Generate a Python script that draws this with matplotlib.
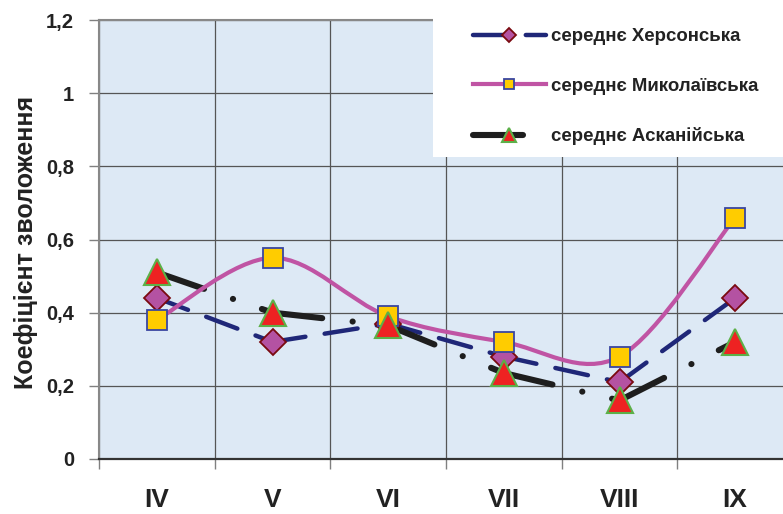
import numpy as np
import matplotlib
matplotlib.use("Agg")
import matplotlib.pyplot as plt
from matplotlib.path import Path
from matplotlib.patches import PathPatch, Rectangle
from matplotlib.lines import Line2D

plt.rcParams['font.family'] = ['Liberation Sans', 'DejaVu Sans']
plt.rcParams['font.weight'] = 'bold'
plt.rcParams['lines.scale_dashes'] = False

# --- data ---
months = ["IV", "V", "VI", "VII", "VIII", "IX"]
kherson = [0.44, 0.32, 0.37, 0.28, 0.21, 0.44]
mykolaiv = [0.38, 0.55, 0.39, 0.32, 0.28, 0.66]
askania = [0.51, 0.40, 0.365, 0.235, 0.16, 0.32]
labels = ["середнє Херсонська", "середнє Миколаївська", "середнє Асканійська"]
y_ticks = [0, 0.2, 0.4, 0.6, 0.8, 1.0, 1.2]
y_ticklabels = ["0", "0,2", "0,4", "0,6", "0,8", "1", "1,2"]

x = np.arange(1, len(months) + 1)

fig = plt.figure(figsize=(7.83, 5.14), dpi=100)
ax = fig.add_axes([99 / 783, 55 / 514, 694 / 783, 439 / 514])
ax.set_facecolor('#dde9f5')
ax.set_xlim(0.5, 6.5)
ax.set_ylim(0, 1.2)

# styles
navy = dict(color='#1f2778', lw=3.2, dashes=(24, 14), dash_capstyle='round')
black = dict(color='#1e1e1e', lw=4.4, dashes=(36, 22, 0.1, 22), dash_capstyle='round')
pink = dict(color='#c054a4', lw=3.0)
dia = dict(marker='D', ms=13.5, mfc='#b452a2', mec='#7a0a10', mew=1.3)
sq = dict(marker='s', ms=14, mfc='#ffcc00', mec='#3a46a0', mew=1.3)
tri = dict(marker='^', ms=19, mfc='#ee2222', mec='#5cb048', mew=1.5)

# Excel restarts the dash pattern on every segment
for i in range(len(x) - 1):
    ax.plot(x[i:i + 2], kherson[i:i + 2], zorder=3, **navy)
    ax.plot(x[i:i + 2], askania[i:i + 2], zorder=3, **black)

# smoothed Mykolaiv line (Catmull-Rom as cubic Bezier, like Excel "smoothed line")
pts = np.column_stack([x, mykolaiv]).astype(float)
verts = [pts[0]]
codes = [Path.MOVETO]
for i in range(len(pts) - 1):
    p0 = pts[i - 1] if i > 0 else pts[i]
    p3 = pts[i + 2] if i + 2 < len(pts) else pts[i + 1]
    c1 = pts[i] + (pts[i + 1] - p0) / 6
    c2 = pts[i + 1] - (p3 - pts[i]) / 6
    verts += [c1, c2, pts[i + 1]]
    codes += [Path.CURVE4] * 3
ax.add_patch(PathPatch(Path(verts, codes), fill=False, edgecolor=pink['color'],
                       lw=pink['lw'], zorder=3.2))

ax.plot(x, kherson, ls='none', zorder=4, **dia)
ax.plot(x, mykolaiv, ls='none', zorder=4.1, **sq)
ax.plot(x, askania, ls='none', zorder=4.2, **tri)

# axes styling
ax.set_yticks(y_ticks)
ax.set_yticklabels(y_ticklabels, fontsize=14.5, fontweight='bold')
ax.set_xticks(x)
ax.set_xticklabels(months, fontsize=19, fontweight='bold')
ax.set_xticks(np.arange(0.5, 6.6, 1), minor=True)
ax.tick_params(axis='x', which='major', length=0, pad=21, colors='#222222')
ax.tick_params(axis='x', which='minor', length=7, color='#808080', width=1)
ax.tick_params(axis='y', length=7, width=1, pad=11, colors='#808080', labelcolor='#222222')
ax.grid(True, axis='y', color='#555555', lw=0.9)
ax.grid(True, axis='x', which='minor', color='#555555', lw=0.9)
ax.set_axisbelow(True)
ax.spines['right'].set_visible(False)
ax.spines['top'].set_color('#888888')
ax.spines['top'].set_linewidth(1.5)
ax.spines['left'].set_color('#888888')
ax.spines['left'].set_linewidth(1.5)
ax.spines['bottom'].set_color('#333333')
ax.spines['bottom'].set_linewidth(1.6)

fig.text(26 / 783, 1 - 242 / 514, "Коефіцієнт зволоження", rotation=90,
         ha='center', va='center', fontsize=18, fontweight='bold', color='#222222')

# white legend box
fig.patches.append(Rectangle((433 / 783, 1 - 157 / 514), 350 / 783, 157 / 514,
                             transform=fig.transFigure, facecolor='white',
                             edgecolor='none', zorder=3))

handles = [
    Line2D([], [], **navy, **dia),
    Line2D([], [], **pink, **sq),
    Line2D([], [], color=black['color'], lw=black['lw'], dashes=(36, 22, 0.1, 22),
           dash_capstyle='round', **tri),
]
leg = fig.legend(handles, labels, loc='upper left', bbox_to_anchor=(473 / 783, 1 - 28 / 514),
                 frameon=False, borderpad=0, borderaxespad=0, handlelength=3.9,
                 handletextpad=0.3, labelspacing=1.75, markerscale=0.5,
                 prop={'family': 'Liberation Sans', 'weight': 'bold', 'size': 13.4})
leg.set_zorder(5)
for t in leg.get_texts():
    t.set_color('#222222')

fig.savefig("out.png", dpi=100)
